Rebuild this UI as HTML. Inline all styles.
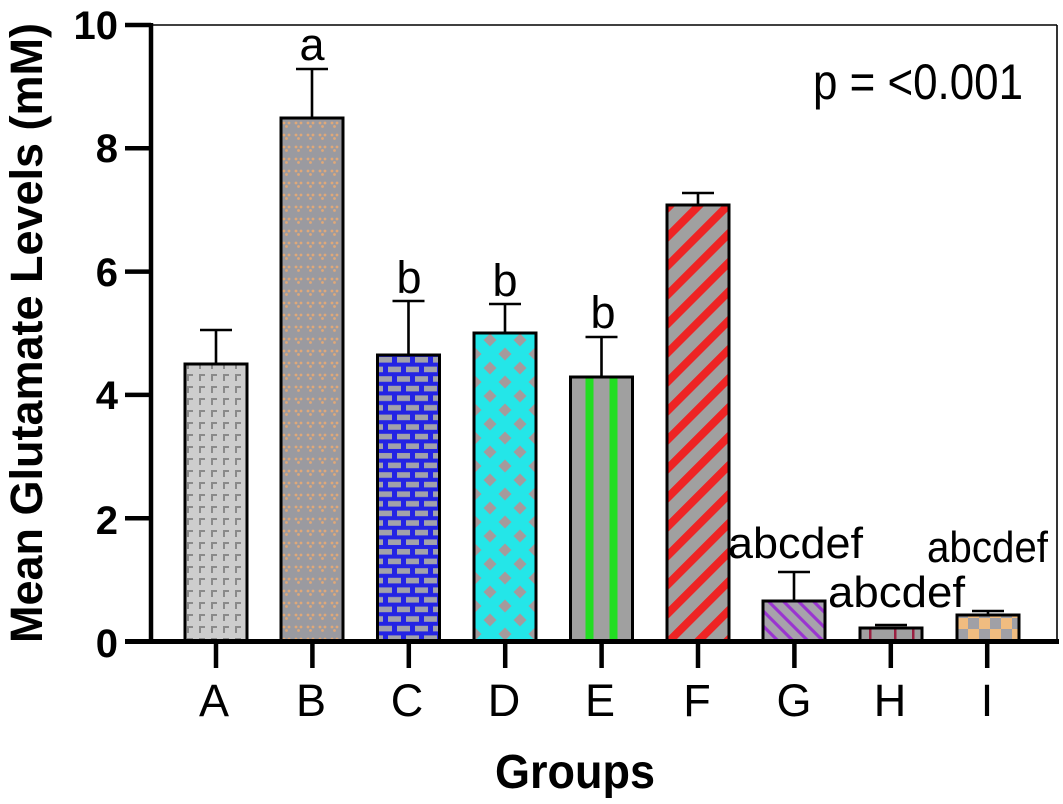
<!DOCTYPE html>
<html>
<head>
<meta charset="utf-8">
<style>
  html,body{margin:0;padding:0;background:#fff;}
  svg{display:block;}
  text{font-family:"Liberation Sans", Arial, sans-serif;}
</style>
</head>
<body>
<svg width="1063" height="804" viewBox="0 0 1063 804" xmlns="http://www.w3.org/2000/svg">
  <defs>
    <!-- A: light gray with L shapes -->
    <pattern id="pA" patternUnits="userSpaceOnUse" width="12" height="12" x="185" y="0">
      <rect width="12" height="12" fill="#cdcdcd"/>
      <path d="M2 2 h6 v2 h-4 v5 h-2 z" fill="#8a8a8a"/>
    </pattern>
    <!-- B: gray with orange dots -->
    <pattern id="pB" patternUnits="userSpaceOnUse" width="12" height="12" x="281" y="0">
      <rect width="12" height="12" fill="#9a9aa0"/>
      <circle cx="3" cy="3" r="1.4" fill="#e0a878"/>
      <circle cx="8" cy="3" r="1.4" fill="#e0a878"/>
      <circle cx="5.5" cy="6.5" r="1.4" fill="#e0a878"/>
    </pattern>
    <!-- C: blue bricks -->
    <pattern id="pC" patternUnits="userSpaceOnUse" width="18" height="19.2" x="377" y="355">
      <rect width="18" height="19.2" fill="#2424e4"/>
      <rect x="2" y="2" width="13" height="5.6" fill="#a2a2aa"/>
      <rect x="-7" y="11.6" width="13" height="5.6" fill="#a2a2aa"/>
      <rect x="11" y="11.6" width="13" height="5.6" fill="#a2a2aa"/>
    </pattern>
    <!-- D: cyan with gray diamonds -->
    <pattern id="pD" patternUnits="userSpaceOnUse" width="30" height="28" x="490" y="340">
      <rect width="30" height="28" fill="#24e6e8"/>
      <path d="M0 -6.5 L6.5 0 L0 6.5 L-6.5 0 z" fill="#a59a9c"/>
      <path d="M30 -6.5 L36.5 0 L30 6.5 L23.5 0 z" fill="#a59a9c"/>
      <path d="M0 21.5 L6.5 28 L0 34.5 L-6.5 28 z" fill="#a59a9c"/>
      <path d="M30 21.5 L36.5 28 L30 34.5 L23.5 28 z" fill="#a59a9c"/>
      <path d="M15 7.5 L21.5 14 L15 20.5 L8.5 14 z" fill="#a59a9c"/>
    </pattern>
    <!-- F: gray with red diagonal stripes -->
    <pattern id="pF" patternUnits="userSpaceOnUse" width="20.5" height="20.5" patternTransform="rotate(45)">
      <rect width="20.5" height="20.5" fill="#a0a0a0"/>
      <rect width="8" height="20.5" fill="#ee2424"/>
    </pattern>
    <!-- G: gray with purple stripes -->
    <pattern id="pG" patternUnits="userSpaceOnUse" width="10.6" height="10.6" patternTransform="rotate(-45)">
      <rect width="10.6" height="10.6" fill="#a7a2ab"/>
      <rect width="3.2" height="10.6" fill="#9a34d0"/>
    </pattern>
    <!-- I: checkerboard -->
    <pattern id="pI" patternUnits="userSpaceOnUse" width="22" height="22" x="957" y="618">
      <rect width="22" height="22" fill="#f0bc80"/>
      <rect x="11" y="0" width="11" height="11" fill="#a0a0a6"/>
      <rect x="0" y="11" width="11" height="11" fill="#a0a0a6"/>
    </pattern>
  </defs>

  <!-- frame -->
  <line x1="151" y1="25" x2="1057" y2="25" stroke="#000" stroke-width="1.6"/>
  <line x1="1057" y1="25" x2="1057" y2="642" stroke="#000" stroke-width="1.6"/>

  <!-- Bars -->
  <rect x="185" y="364" width="62" height="277.5" fill="url(#pA)"/>
  <rect x="281" y="118" width="62" height="523.5" fill="url(#pB)"/>
  <rect x="377.5" y="355" width="62" height="286.5" fill="url(#pC)"/>
  <rect x="474" y="333" width="62" height="308.5" fill="url(#pD)"/>
  <rect x="570.5" y="377" width="62" height="264.5" fill="#a0a0a0"/>
  <rect x="585.5" y="377" width="8" height="264.5" fill="#22dd22"/>
  <rect x="609.5" y="377" width="8" height="264.5" fill="#22dd22"/>
  <rect x="667" y="205" width="62" height="436.5" fill="url(#pF)"/>
  <rect x="763" y="601" width="62" height="40.5" fill="url(#pG)"/>
  <rect x="860" y="628" width="62" height="13.5" fill="#a0a0a0"/>
  <rect x="869" y="628" width="2.5" height="13.5" fill="#9a2040"/>
  <rect x="894" y="628" width="2.5" height="13.5" fill="#9a2040"/>
  <rect x="912" y="628" width="2.5" height="13.5" fill="#9a2040"/>
  <rect x="957" y="615" width="62" height="26.5" fill="url(#pI)"/>

  <!-- bar borders -->
  <g fill="none" stroke="#000" stroke-width="3">
    <rect x="185" y="364" width="62" height="277.5"/>
    <rect x="281" y="118" width="62" height="523.5"/>
    <rect x="377.5" y="355" width="62" height="286.5"/>
    <rect x="474" y="333" width="62" height="308.5"/>
    <rect x="570.5" y="377" width="62" height="264.5"/>
    <rect x="667" y="205" width="62" height="436.5"/>
    <rect x="763" y="601" width="62" height="40.5"/>
    <rect x="860" y="628" width="62" height="13.5"/>
    <rect x="957" y="615" width="62" height="26.5"/>
  </g>

  <!-- error bars -->
  <g stroke="#000" stroke-width="2.6" fill="none">
    <path d="M216 364 V330 M200 330 H232"/>
    <path d="M312 118 V69 M296 69 H328"/>
    <path d="M408.5 355 V301 M392.5 301 H424.5"/>
    <path d="M505 333 V304 M489 304 H521"/>
    <path d="M601.5 377 V337 M585.5 337 H617.5"/>
    <path d="M698 205 V193 M682 193 H714"/>
    <path d="M794 601 V572 M778 572 H810"/>
    <path d="M875 625 H907"/>
    <path d="M988 615 V611 M972 611 H1004"/>
  </g>

  <!-- axes -->
  <line x1="151" y1="23" x2="151" y2="644" stroke="#000" stroke-width="4.5"/>
  <line x1="125" y1="641.5" x2="1059" y2="641.5" stroke="#000" stroke-width="5"/>
  <g stroke="#000" stroke-width="4.5">
    <line x1="125" y1="25" x2="151" y2="25"/>
    <line x1="125" y1="148.3" x2="151" y2="148.3"/>
    <line x1="125" y1="271.6" x2="151" y2="271.6"/>
    <line x1="125" y1="394.9" x2="151" y2="394.9"/>
    <line x1="125" y1="518.2" x2="151" y2="518.2"/>
  </g>
  <g stroke="#000" stroke-width="4.5">
    <line x1="216" y1="642" x2="216" y2="668"/>
    <line x1="312.4" y1="642" x2="312.4" y2="668"/>
    <line x1="408.8" y1="642" x2="408.8" y2="668"/>
    <line x1="505.2" y1="642" x2="505.2" y2="668"/>
    <line x1="601.6" y1="642" x2="601.6" y2="668"/>
    <line x1="698" y1="642" x2="698" y2="668"/>
    <line x1="794.4" y1="642" x2="794.4" y2="668"/>
    <line x1="890.8" y1="642" x2="890.8" y2="668"/>
    <line x1="987.2" y1="642" x2="987.2" y2="668"/>
  </g>

  <!-- y tick labels -->
  <g font-size="40" font-weight="bold" text-anchor="end" fill="#000">
    <text x="118" y="39">10</text>
    <text x="118" y="162">8</text>
    <text x="118" y="286">6</text>
    <text x="118" y="409">4</text>
    <text x="118" y="534">2</text>
    <text x="118" y="657">0</text>
  </g>

  <!-- x tick labels -->
  <g font-size="45" text-anchor="middle" fill="#000">
    <text x="214" y="716">A</text>
    <text x="311" y="716">B</text>
    <text x="407" y="716">C</text>
    <text x="504" y="716">D</text>
    <text x="600" y="716">E</text>
    <text x="697" y="716">F</text>
    <text x="794" y="716">G</text>
    <text x="890" y="716">H</text>
    <text x="987" y="716">I</text>
  </g>

  <!-- significance labels -->
  <g font-size="45" text-anchor="middle" fill="#000">
    <text x="312" y="60">a</text>
    <text x="409" y="293">b</text>
    <text x="505" y="296">b</text>
    <text x="603" y="328">b</text>
  </g>
  <g font-size="44" fill="#000">
    <text x="728" y="558" textLength="135" lengthAdjust="spacingAndGlyphs">abcdef</text>
    <text x="828" y="607" textLength="137" lengthAdjust="spacingAndGlyphs">abcdef</text>
    <text x="927" y="562" textLength="121" lengthAdjust="spacingAndGlyphs">abcdef</text>
  </g>

  <!-- p value -->
  <text x="813" y="99" font-size="50" textLength="210" lengthAdjust="spacingAndGlyphs" fill="#000">p = &lt;0.001</text>

  <!-- axis titles -->
  <text x="495" y="788" font-size="48" font-weight="bold" textLength="160" lengthAdjust="spacingAndGlyphs" fill="#000">Groups</text>
  <text transform="translate(42,333) rotate(-90)" x="0" y="0" font-size="45" font-weight="bold" text-anchor="middle" textLength="620" lengthAdjust="spacingAndGlyphs" fill="#000">Mean Glutamate Levels (mM)</text>
</svg>
</body>
</html>
